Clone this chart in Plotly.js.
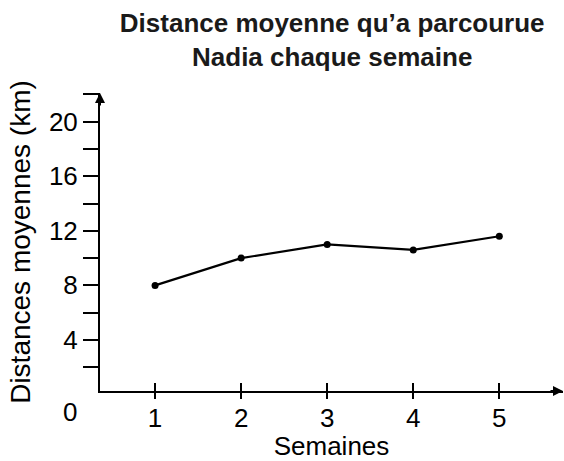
<!DOCTYPE html>
<html>
<head>
<meta charset="utf-8">
<script src="https://cdn.plot.ly/plotly-3.0.1.min.js"></script>
<style>html,body{margin:0;padding:0;background:#fff;}#chart{width:564px;height:461px;}</style>
</head>
<body>
<div id="chart"></div>
<script>
const weeks = [1, 2, 3, 4, 5];
const distances = [8, 10, 11, 10.6, 11.6];
const yTickVals = [4, 8, 12, 16, 20];
const yTickText = ['4', '8', '12', '16', '20'];
const titleText = 'Distance moyenne qu’a parcourue<br>Nadia chaque semaine';
const xTitle = 'Semaines';
const yTitle = 'Distances moyennes (km)';
const originLabel = '0';

const FONT = 'Liberation Sans, Arial, sans-serif';
const xRange = [0.36, 5.74];
const yRange = [0.26, 22.1];

const traces = [{
  x: weeks, y: distances, type: 'scatter', mode: 'lines+markers',
  line: {color: '#000', width: 2.2},
  marker: {color: '#000', size: 7},
  cliponaxis: false, hoverinfo: 'skip'
}, {
  x: weeks, y: distances, xaxis: 'x2', type: 'scatter', mode: 'none',
  hoverinfo: 'skip', showlegend: false
}];

const layout = {
  width: 564, height: 461,
  margin: {l: 100, r: 1, t: 93, b: 70},
  paper_bgcolor: '#fff', plot_bgcolor: '#fff',
  showlegend: false,
  font: {family: FONT, color: '#000', size: 26},
  title: {
    text: titleText,
    font: {family: FONT, size: 26, weight: 'bold', color: '#1a1a1a'},
    x: 0.589, xanchor: 'center', xref: 'container',
    y: 0.93, yanchor: 'top', yref: 'container'
  },
  xaxis: {
    range: xRange, tickvals: weeks, ticktext: weeks.map(String),
    showline: true, linewidth: 2, linecolor: '#000',
    ticks: 'outside', ticklen: 6, tickwidth: 2, tickcolor: '#000',
    ticklabelstandoff: -3,
    showgrid: false, zeroline: false,
    tickfont: {size: 26},
    title: {text: xTitle, font: {size: 26}, standoff: 10},
    automargin: false, fixedrange: true
  },
  xaxis2: {
    range: xRange, overlaying: 'x', anchor: 'y', side: 'bottom',
    tickvals: weeks, showticklabels: false,
    ticks: 'inside', ticklen: 8, tickwidth: 2, tickcolor: '#000',
    showline: false, showgrid: false, zeroline: false, fixedrange: true
  },
  yaxis: {
    range: yRange, tickvals: yTickVals, ticktext: yTickText,
    showline: true, linewidth: 2, linecolor: '#000',
    ticks: 'outside', ticklen: 15, tickwidth: 2, tickcolor: '#000',
    minor: {dtick: 2, tick0: 0, ticks: 'outside', ticklen: 15, tickwidth: 2, tickcolor: '#000', showgrid: false},
    showgrid: false, zeroline: false,
    tickfont: {size: 26},
    title: {text: yTitle, font: {size: 28}, standoff: 10},
    automargin: false, fixedrange: true
  },
  annotations: [
    {xref: 'paper', yref: 'paper', x: 1, y: 0, ax: -14, ay: 0, axref: 'pixel', ayref: 'pixel',
     text: '', showarrow: true, arrowhead: 2, arrowsize: 1, arrowwidth: 2, arrowcolor: '#000', standoff: 0},
    {xref: 'paper', yref: 'paper', x: 0, y: 1, ax: 0, ay: 14, axref: 'pixel', ayref: 'pixel',
     text: '', showarrow: true, arrowhead: 2, arrowsize: 1, arrowwidth: 2, arrowcolor: '#000', standoff: 0},
    {xref: 'paper', yref: 'paper', x: -0.065, y: 0, text: originLabel, showarrow: false,
     xanchor: 'center', yanchor: 'middle', yshift: -21, font: {size: 26}}
  ]
};

Plotly.newPlot('chart', traces, layout, {displayModeBar: false, staticPlot: true});
</script>
</body>
</html>
